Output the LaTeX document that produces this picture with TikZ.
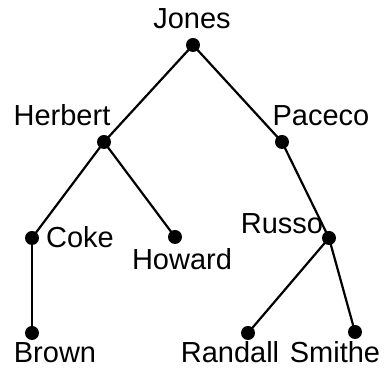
\documentclass[tikz,border=0pt]{standalone}
\usepackage{fontspec}
\setmainfont{Liberation Sans}
\tikzset{
  pers/.style={circle, fill=black, inner sep=0pt, minimum size=14pt},
  tag/.style={anchor=base, font=\fontsize{29}{32}\selectfont, inner sep=0pt},
  link/.style={line width=2.2pt}
}
\begin{document}
\begin{tikzpicture}[x=1pt, y=1pt]
    \useasboundingbox (0, 0) rectangle (384, 369);
    % the tree
    \node[pers] (jones) at (193, 324) {};
    \node[pers] (herbert) at (104, 227) {};
    \node[pers] (paceco) at (282, 227) {};
    \node[pers] (coke) at (32, 131) {};
    \node[pers] (howard) at (175, 132) {};
    \node[pers] (russo) at (329, 131) {};
    \node[pers] (brown) at (32, 36) {};
    \node[pers] (randall) at (248, 36) {};
    \node[pers] (smithe) at (355, 37) {};
    \draw[link] (jones.center) -- (herbert.center);
    \draw[link] (jones.center) -- (paceco.center);
    \draw[link] (herbert.center) -- (coke.center);
    \draw[link] (herbert.center) -- (howard.center);
    \draw[link] (paceco.center) -- (russo.center);
    \draw[link] (coke.center) -- (brown.center);
    \draw[link] (russo.center) -- (randall.center);
    \draw[link] (russo.center) -- (smithe.center);
    % names
    \node[tag] (tjones) at (192, 340) {Jones};
    \node[tag] (therbert) at (62, 243) {Herbert};
    \node[tag] (tpaceco) at (321, 243) {Paceco};
    \node[tag] (tcoke) at (80, 121) {Coke};
    \node[tag] (thoward) at (182, 99) {Howard};
    \node[tag] (trusso) at (282, 135) {Russo};
    \node[tag] (tbrown) at (55, 6) {Brown};
    \node[tag] (trandall) at (230, 6) {Randall};
    \node[tag] (tsmithe) at (335, 6) {Smithe};
\end{tikzpicture}
\end{document}
